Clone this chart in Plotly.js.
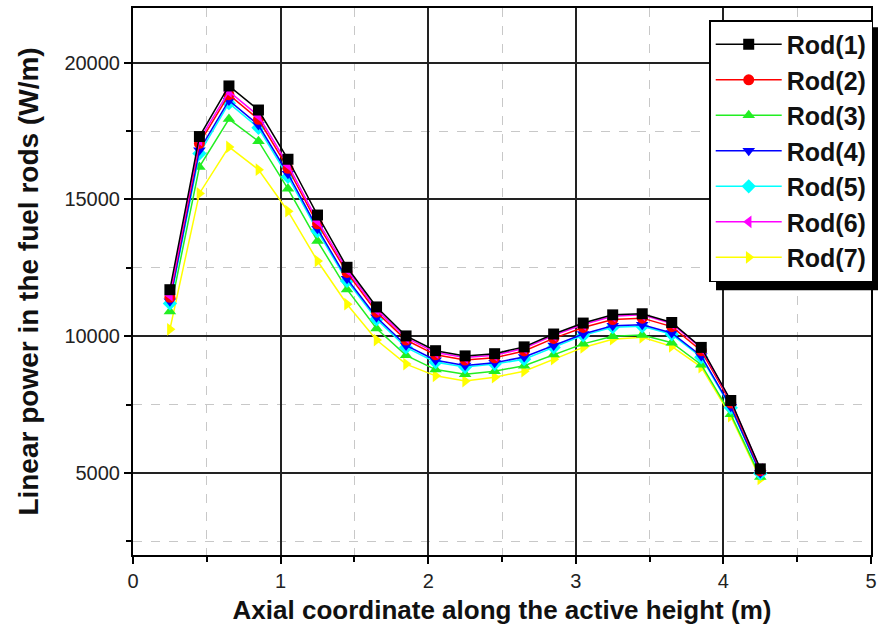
<!DOCTYPE html>
<html><head><meta charset="utf-8">
<script src="https://cdn.plot.ly/plotly-3.0.1.min.js"></script>
<style>html,body{margin:0;padding:0;background:#fff}#chart{width:878px;height:636px}</style>
</head><body><div id="chart"></div>
<script>
const axial = [0.25,0.45,0.65,0.85,1.05,1.25,1.45,1.65,1.85,2.05,2.25,2.45,2.65,2.85,3.05,3.25,3.45,3.65,3.85,4.05,4.25];
const rod1 = [11700,17300,19150,18270,16470,14430,12520,11070,10010,9470,9280,9360,9610,10080,10480,10780,10820,10500,9590,7650,5150];
const rod2 = [11420,17050,18830,17930,16140,14110,12330,10880,9860,9320,9130,9210,9460,9920,10320,10610,10660,10350,9470,7560,5080];
const rod3 = [10900,16190,17940,17130,15390,13480,11710,10280,9300,8780,8610,8720,8920,9330,9720,10000,10040,9760,8960,7150,4850];
const rod4 = [11280,16800,18620,17720,15940,13930,12100,10690,9660,9120,8930,9030,9240,9660,10080,10380,10420,10120,9280,7420,5000];
const rod5 = [11200,16680,18520,17620,15830,13840,12020,10620,9590,9050,8870,8980,9160,9590,10030,10330,10360,10070,9230,7380,4980];
const rod6 = [11500,17170,18950,18060,16260,14220,12430,10970,9950,9400,9220,9300,9560,10030,10430,10730,10780,10460,9560,7630,5130];
const rod7 = [10250,15220,16920,16090,14570,12750,11170,9860,8980,8550,8360,8500,8720,9160,9590,9890,9960,9630,8870,7080,4780];
const names = ["Rod(1)","Rod(2)","Rod(3)","Rod(4)","Rod(5)","Rod(6)","Rod(7)"];
const series = [rod1,rod2,rod3,rod4,rod5,rod6,rod7];
const colors = ["#000000","#ff0000","#22ee22","#0000ff","#00ffff","#ff00ff","#ffff00"];
const symbols = ["square","circle","triangle-up","triangle-down","diamond","triangle-left","triangle-right"];
const drawOrder = [6,2,4,3,1,5,0];
const traces = drawOrder.map(i => ({
  x: axial, y: series[i], name: names[i], type: 'scatter', mode: 'lines+markers',
  legendgroup: 'g'+i, legendrank: i+1,
  line: {color: colors[i], width: 1.5},
  marker: {color: colors[i], symbol: symbols[i], size: 11}
}));
const F = '"Liberation Sans", Arial, sans-serif';
const layout = {
  width: 878, height: 636,
  margin: {l: 133, r: 5, t: 8, b: 81},
  paper_bgcolor: '#fff', plot_bgcolor: '#fff',
  font: {family: F, color: '#111', size: 20},
  showlegend: true,
  legend: {x: 1.003, y: 0.978, xanchor: 'right', yanchor: 'top', bgcolor: '#fff',
    bordercolor: '#000', borderwidth: 1.5, tracegroupgap: 3, itemwidth: 66,
    font: {family: F, size: 25, color: '#111', weight: 'bold'}, traceorder: 'normal'},
  xaxis: {range: [0, 5], dtick: 1, tick0: 0, showline: true, linecolor: '#000', linewidth: 2, mirror: true,
    ticks: 'outside', ticklen: 7, tickwidth: 1.5, tickcolor: '#000',
    showgrid: true, gridcolor: '#222', gridwidth: 1.5, zeroline: false,
    minor: {dtick: 0.5, ticks: 'outside', ticklen: 5, tickcolor: '#000', showgrid: true, gridcolor: '#c8c8c8', griddash: 'dash', gridwidth: 1},
    tickfont: {size: 20, color: '#222'},
    title: {text: 'Axial coordinate along the active height (m)', font: {size: 26, weight: 'bold', color: '#111'}, standoff: 10}},
  yaxis: {range: [2000, 22000], dtick: 5000, tick0: 0, tickformat: 'd', showline: true, linecolor: '#000', linewidth: 2, mirror: true,
    ticks: 'outside', ticklen: 7, tickwidth: 1.5, tickcolor: '#000',
    showgrid: true, gridcolor: '#222', gridwidth: 1.5, zeroline: false,
    minor: {dtick: 2500, ticks: 'outside', ticklen: 5, tickcolor: '#000', showgrid: true, gridcolor: '#c8c8c8', griddash: 'dash', gridwidth: 1},
    tickfont: {size: 20, color: '#222'},
    title: {text: 'Linear power in the fuel rods (W/m)', font: {size: 28, weight: 'bold', color: '#111'}, standoff: 18}},
  shapes: [{type: 'rect', xref: 'paper', yref: 'paper', x0: 0.79, x1: 1.02, y0: 0.484, y1: 0.965,
    fillcolor: '#000', line: {width: 0}, layer: 'above'}]
};
Plotly.newPlot('chart', traces, layout, {displayModeBar: false});
</script></body></html>
